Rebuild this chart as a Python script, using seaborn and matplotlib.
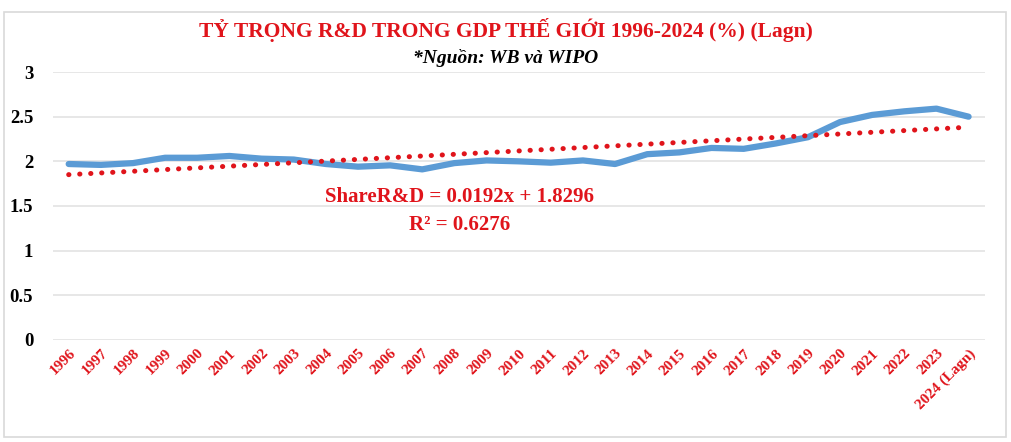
import numpy as np
import pandas as pd
import matplotlib
matplotlib.use("Agg")
import matplotlib.pyplot as plt
import seaborn as sns
from matplotlib.patches import Rectangle

years = ["1996", "1997", "1998", "1999", "2000", "2001", "2002", "2003", "2004", "2005",
         "2006", "2007", "2008", "2009", "2010", "2011", "2012", "2013", "2014", "2015",
         "2016", "2017", "2018", "2019", "2020", "2021", "2022", "2023", "2024 (Lagn)"]
share_rd = [1.97, 1.96, 1.98, 2.04, 2.04, 2.06, 2.03, 2.02, 1.97, 1.94,
            1.955, 1.91, 1.98, 2.01, 2.00, 1.985, 2.01, 1.97, 2.08, 2.10,
            2.15, 2.14, 2.20, 2.27, 2.44, 2.52, 2.56, 2.59, 2.50]
yticks = [0, 0.5, 1, 1.5, 2, 2.5, 3]
ytick_labels = ["0", "0.5", "1", "1.5", "2", "2.5", "3"]
title = "TỶ TRỌNG R&D TRONG GDP THẾ GIỚI 1996-2024 (%) (Lagn)"
subtitle = "*Nguồn: WB và WIPO"
eq_text = "ShareR&D = 0.0192x + 1.8296"
r2_text = "R² = 0.6276"

sns.set_theme(style="white")
plt.rcParams["font.family"] = ["Liberation Serif", "DejaVu Serif"]

RED = "#E0141B"
BLUE = "#5B9BD5"

df = pd.DataFrame({"pos": np.arange(len(years)), "val": share_rd})

fig = plt.figure(figsize=(10.12, 4.42), dpi=100)
ax = fig.add_axes([0.052, 0.231, 0.921, 0.606])

sns.lineplot(data=df, x="pos", y="val", ax=ax, color=BLUE, linewidth=4.5,
             solid_capstyle="round", zorder=3)
sns.regplot(data=df, x="pos", y="val", ax=ax, ci=None, scatter=False,
            line_kws=dict(color=RED, linewidth=3.6, linestyle=(0, (0.05, 2.15)),
                          dash_capstyle="round", zorder=4))

ax.set_xlim(-0.5, len(years) - 0.5)
ax.set_ylim(0, 3)
ax.set_yticks(yticks)
ax.set_yticklabels(ytick_labels, fontsize=13.5, fontweight="bold", color="black")
ax.set_xticks(np.arange(len(years)))
ax.set_xticklabels(years, rotation=45, ha="right", rotation_mode="anchor",
                   fontsize=11, fontweight="bold", color=RED)
ax.tick_params(axis="x", length=0, pad=5)
ax.tick_params(axis="y", length=0, pad=14)
ax.set_xlabel("")
ax.set_ylabel("")
ax.grid(axis="y", color="#E3E3E3", linewidth=1.2)
ax.grid(axis="x", visible=False)
for s in ax.spines.values():
    s.set_visible(False)
ax.set_axisbelow(True)

fig.text(0.5, 0.932, title, ha="center", va="center", fontsize=15.5,
         fontweight="bold", color=RED)
fig.text(0.5, 0.868, subtitle, ha="center", va="center", fontsize=14,
         fontweight="bold", fontstyle="italic", color="black")
fig.text(0.454, 0.554, eq_text, ha="center", va="center", fontsize=15,
         fontweight="bold", color=RED)
fig.text(0.454, 0.490, r2_text, ha="center", va="center", fontsize=15,
         fontweight="bold", color=RED)

fig.patches.append(Rectangle((0.004, 0.011), 0.990, 0.962, transform=fig.transFigure,
                             fill=False, edgecolor="#D9D9D9", linewidth=1.2))

fig.savefig("out.png", dpi=100)
